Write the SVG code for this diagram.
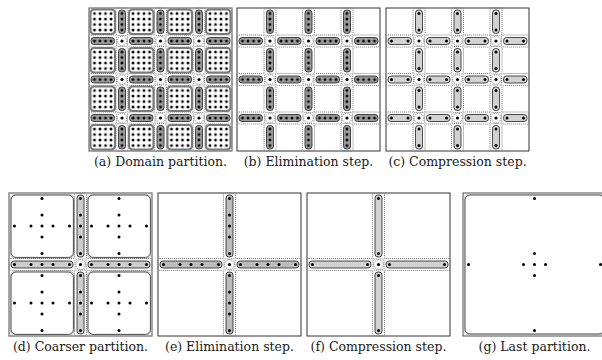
<svg xmlns="http://www.w3.org/2000/svg" width="602" height="360" viewBox="0 0 602 360">
<style>
.frame{fill:none;stroke:#333;stroke-width:1}
.frameG{fill:none;stroke:#6a6a6a;stroke-width:1.2}
.ol{fill:none;stroke:#7c7c7c;stroke-width:1;stroke-dasharray:1 1}
.st{stroke:#1e1e1e;stroke-width:0.8}
.dot{fill:#000}
.sB{fill:#9a9a9a}
.sC{fill:#d2d2d2}
.sE{fill:#bdbdbd}
.sD{fill:#cdcdcd}
.boxA{fill:#fff;stroke:#7a7a7a;stroke-width:2.1}
.boxD{fill:#fff;stroke:#333;stroke-width:0.9}
.boxO{fill:none;stroke:#a5a5a5;stroke-width:0.7}
.cap{font-family:"DejaVu Serif","Liberation Serif",serif;font-size:12.5px;text-anchor:middle;fill:#1a1a1a}
</style>
<defs>
<pattern id="dp" patternUnits="userSpaceOnUse" x="-2.75" y="-2.75" width="5.5" height="5.5"><circle cx="2.75" cy="2.75" r="1.45" fill="#000"/></pattern>
<g id="seg4"><rect class="ol" x="-5.5" y="-6" width="27.5" height="12" rx="2"/><rect class="st" x="-3.5" y="-3.5" width="23.5" height="7" rx="3"/><rect x="-2.75" y="-2.75" width="22" height="5.5" fill="url(#dp)"/></g>
<g id="seg2"><rect class="ol" x="-5.5" y="-6" width="27.5" height="12" rx="2"/><rect class="st" x="-3.5" y="-3.5" width="23.5" height="7" rx="3"/><circle class="dot" r="1.5"/><circle class="dot" cx="16.5" r="1.5"/></g>
<g id="line4"><use href="#seg4" x="5.5"/><use href="#seg4" x="44"/><use href="#seg4" x="82.5"/><use href="#seg4" x="121"/></g>
<g id="line2"><use href="#seg2" x="5.5"/><use href="#seg2" x="44"/><use href="#seg2" x="82.5"/><use href="#seg2" x="121"/></g>
<g id="jn"><circle class="ol" r="4.8"/><circle class="dot" r="1.6"/></g>
<g id="jn9"><use href="#jn" x="33" y="33"/><use href="#jn" x="71.5" y="33"/><use href="#jn" x="110" y="33"/><use href="#jn" x="33" y="71.5"/><use href="#jn" x="71.5" y="71.5"/><use href="#jn" x="110" y="71.5"/><use href="#jn" x="33" y="110"/><use href="#jn" x="71.5" y="110"/><use href="#jn" x="110" y="110"/></g>
<g id="gridB"><use href="#line4" y="33"/><use href="#line4" y="71.5"/><use href="#line4" y="110"/><use href="#line4" transform="translate(33 0) rotate(90)"/><use href="#line4" transform="translate(71.5 0) rotate(90)"/><use href="#line4" transform="translate(110 0) rotate(90)"/><use href="#jn9"/></g>
<g id="gridC"><use href="#line2" y="33"/><use href="#line2" y="71.5"/><use href="#line2" y="110"/><use href="#line2" transform="translate(33 0) rotate(90)"/><use href="#line2" transform="translate(71.5 0) rotate(90)"/><use href="#line2" transform="translate(110 0) rotate(90)"/><use href="#jn9"/></g>
<g id="boxA"><rect class="boxA" x="-4" y="-4" width="24.5" height="24.5" rx="3.5"/><rect x="-2.75" y="-2.75" width="22" height="22" fill="url(#dp)"/></g>
<g id="boxRow"><use href="#boxA" x="5.5"/><use href="#boxA" x="44"/><use href="#boxA" x="82.5"/><use href="#boxA" x="121"/></g>
<g id="seg5"><rect class="ol" x="-5.5" y="-6" width="66" height="12" rx="2"/><rect class="st" x="-3.5" y="-3.5" width="62" height="7" rx="3"/><circle class="dot" r="1.5"/><circle class="dot" cx="16.5" r="1.5"/><circle class="dot" cx="27.5" r="1.5"/><circle class="dot" cx="38.5" r="1.5"/><circle class="dot" cx="55" r="1.5"/></g>
<g id="seg5c"><rect class="ol" x="-5.5" y="-6" width="66" height="12" rx="2"/><rect class="st" x="-3.5" y="-3.5" width="62" height="7" rx="3"/><circle class="dot" r="1.5"/><circle class="dot" cx="55" r="1.5"/></g>
<g id="cross5"><use href="#seg5" x="5.5" y="71.5"/><use href="#seg5" x="82.5" y="71.5"/><use href="#seg5" transform="translate(71.5 5.5) rotate(90)"/><use href="#seg5" transform="translate(71.5 82.5) rotate(90)"/><use href="#jn" x="71.5" y="71.5"/></g>
<g id="cross2"><use href="#seg5c" x="5.5" y="71.5"/><use href="#seg5c" x="82.5" y="71.5"/><use href="#seg5c" transform="translate(71.5 5.5) rotate(90)"/><use href="#seg5c" transform="translate(71.5 82.5) rotate(90)"/><use href="#jn" x="71.5" y="71.5"/></g>
<g id="quad"><rect class="boxO" x="0.9" y="0.9" width="64.6" height="64.6" rx="6"/><rect class="boxD" x="2" y="2" width="62.4" height="62.4" rx="5"/><circle class="dot" cx="5.5" cy="33" r="1.5"/><circle class="dot" cx="22" cy="33" r="1.5"/><circle class="dot" cx="33" cy="33" r="1.5"/><circle class="dot" cx="44" cy="33" r="1.5"/><circle class="dot" cx="60.5" cy="33" r="1.5"/><circle class="dot" cx="33" cy="5.5" r="1.5"/><circle class="dot" cx="33" cy="22" r="1.5"/><circle class="dot" cx="33" cy="44" r="1.5"/><circle class="dot" cx="33" cy="60.5" r="1.5"/></g>
</defs>
<rect width="602" height="360" fill="#fff"/>

<g id="panel-a" transform="translate(89 8)">
<rect class="frameG" width="143" height="143"/>
<use href="#boxRow" y="5.5"/><use href="#boxRow" y="44"/><use href="#boxRow" y="82.5"/><use href="#boxRow" y="121"/>
<use href="#gridB" class="sB"/>
<text class="cap" x="71.5" y="158">(a) Domain partition.</text>
</g>

<g id="panel-b" transform="translate(237 8)">
<rect class="frame" width="143" height="143"/>
<use href="#gridB" class="sB"/>
<text class="cap" x="71.5" y="158">(b) Elimination step.</text>
</g>

<g id="panel-c" transform="translate(386 8)">
<rect class="frame" width="143" height="143"/>
<use href="#gridC" class="sC"/>
<text class="cap" x="71.5" y="158">(c) Compression step.</text>
</g>

<g id="panel-d" transform="translate(9 193)">
<rect class="frameG" width="143" height="143"/>
<use href="#quad"/><use href="#quad" x="77"/><use href="#quad" y="77"/><use href="#quad" x="77" y="77"/>
<use href="#cross5" class="sD"/>
<text class="cap" x="71.5" y="158">(d) Coarser partition.</text>
</g>

<g id="panel-e" transform="translate(158 193)">
<rect class="frame" width="143" height="143"/>
<use href="#cross5" class="sE"/>
<text class="cap" x="71.5" y="158">(e) Elimination step.</text>
</g>

<g id="panel-f" transform="translate(307 193)">
<rect class="frame" width="143" height="143"/>
<use href="#cross2" class="sC"/>
<text class="cap" x="71.5" y="158">(f) Compression step.</text>
</g>

<g id="panel-g" transform="translate(463 193)">
<rect class="frameG" width="143" height="143"/>
<rect class="boxO" x="0.9" y="0.9" width="141.2" height="141.2" rx="6"/>
<rect class="boxD" x="2" y="2" width="139" height="139" rx="5"/>
<circle class="dot" cx="71.5" cy="5.5" r="1.5"/><circle class="dot" cx="71.5" cy="60.5" r="1.5"/><circle class="dot" cx="71.5" cy="71.5" r="1.5"/><circle class="dot" cx="71.5" cy="82.5" r="1.5"/><circle class="dot" cx="71.5" cy="137.5" r="1.5"/>
<circle class="dot" cx="5.5" cy="71.5" r="1.5"/><circle class="dot" cx="60.5" cy="71.5" r="1.5"/><circle class="dot" cx="82.5" cy="71.5" r="1.5"/><circle class="dot" cx="137.5" cy="71.5" r="1.5"/>
<text class="cap" x="71.5" y="158">(g) Last partition.</text>
</g>
</svg>
